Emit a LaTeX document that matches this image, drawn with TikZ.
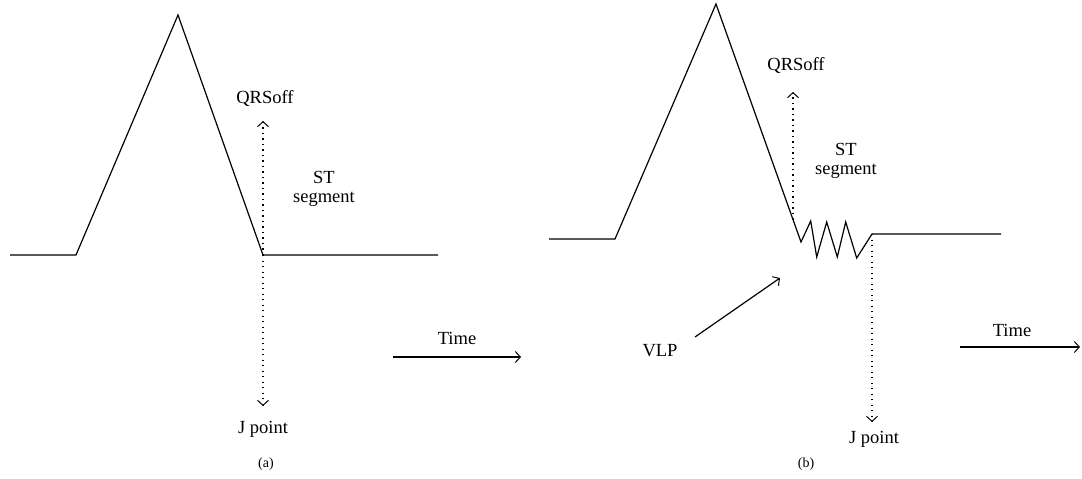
\documentclass[tikz,border=0pt]{standalone}
\usepackage{fontspec}
\setmainfont{Liberation Serif}
\usetikzlibrary{arrows.meta}
\begin{document}
\begin{tikzpicture}[x=1pt,y=-1pt,
  wave/.style={line width=1.2pt, line join=miter},
  dotline/.style={line width=1.3pt, dash pattern=on 1.3pt off 4.2pt},
  tip/.style={-{Straight Barb[length=5pt,width=11pt,line width=1pt]}},
  lbl/.style={font=\fontsize{18.5}{22}\selectfont, inner sep=0pt, align=center},
  captxt/.style={font=\fontsize{14}{16}\selectfont, inner sep=0pt}]
\useasboundingbox (0,0) rectangle (1082,479);
% ---------- panel (a) ----------
\coordinate (a0) at (10,255);
\coordinate (a1) at (76,255);
\coordinate (a2) at (178,15);
\coordinate (a3) at (263,255);
\coordinate (a4) at (438,255);
\draw[wave] (a0) -- (a1) -- (a2) -- (a3) -- (a4);
\coordinate (aq) at (263,121);
\coordinate (aj) at (263,406);
\draw[dotline] (a3) -- ([yshift=-4pt]aq);
\draw[tip, line width=1pt] ([yshift=-1.5pt]aq) -- (aq);
\draw[dotline] (a3) -- ([yshift=4pt]aj);
\draw[tip, line width=1pt] ([yshift=1.5pt]aj) -- (aj);
\node[lbl] (qa) at (265,98) {QRSoff};
\node[lbl] (sta) at (324,189) {ST\\[-3pt]segment};
\node[lbl] (ja) at (263,429) {J point};
\node[captxt] (capa) at (266,464) {(a)};
\coordinate (ta0) at (393,357);
\coordinate (ta1) at (521,357);
\draw[tip, line width=1.2pt] (ta0) -- (ta1);
\node[lbl] (tla) at (457,338) {Time};
% ---------- panel (b) ----------
\coordinate (b0) at (549,239);
\coordinate (b1) at (615,239);
\coordinate (b2) at (716,4);
\coordinate (b3) at (801,242);
\coordinate (z1) at (810.7,221);
\coordinate (z2) at (816.7,257);
\coordinate (z3) at (826.7,222);
\coordinate (z4) at (837.3,257);
\coordinate (z5) at (845.7,222);
\coordinate (z6) at (856.7,258);
\coordinate (b4) at (872,234);
\coordinate (b5) at (1001,234);
\draw[wave] (b0) -- (b1) -- (b2) -- (b3) -- (z1) -- (z2) -- (z3) -- (z4) -- (z5) -- (z6) -- (b4) -- (b5);
\coordinate (bs) at (793,219.5);
\coordinate (bq) at (793,92);
\draw[dotline] (bs) -- ([yshift=-4pt]bq);
\draw[tip, line width=1pt] ([yshift=-1.5pt]bq) -- (bq);
\coordinate (bj) at (872,422);
\draw[dotline] (b4) -- ([yshift=4pt]bj);
\draw[tip, line width=1pt] ([yshift=1.5pt]bj) -- (bj);
\node[lbl] (qb) at (796,65) {QRSoff};
\node[lbl] (stb) at (846,161) {ST\\[-3pt]segment};
\node[lbl] (jb) at (874,439) {J point};
\node[captxt] (capb) at (806,464) {(b)};
\node[lbl] (vlp) at (660,351) {VLP};
\coordinate (v0) at (695,337);
\coordinate (v1) at (780,278);
\draw[tip, line width=1.2pt] (v0) -- (v1);
\coordinate (tb0) at (960,347);
\coordinate (tb1) at (1080,347);
\draw[tip, line width=1.2pt] (tb0) -- (tb1);
\node[lbl] (tlb) at (1012,330) {Time};
\end{tikzpicture}
\end{document}
